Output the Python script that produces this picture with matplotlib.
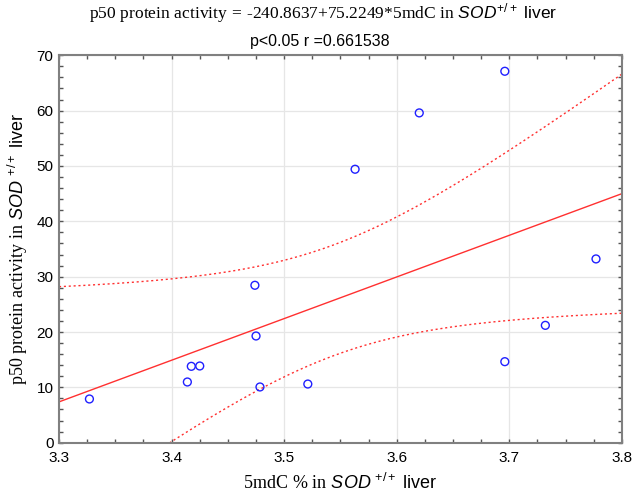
import numpy as np
import matplotlib.pyplot as plt
from matplotlib.ticker import MultipleLocator

plt.rcParams['mathtext.fontset'] = 'custom'
plt.rcParams['mathtext.rm'] = 'Liberation Serif'
plt.rcParams['mathtext.it'] = 'Liberation Sans:italic'
plt.rcParams['mathtext.sf'] = 'Liberation Sans'
plt.rcParams['font.family'] = 'Liberation Sans'

# 5mdC % (x) and p50 protein activity (y)
mdc = [3.327, 3.414, 3.4175, 3.425, 3.474, 3.475, 3.4785, 3.521,
       3.563, 3.620, 3.696, 3.696, 3.732, 3.777]
p50 = [7.9, 10.97, 13.8, 13.86, 28.44, 19.28, 10.07, 10.6,
       49.4, 59.58, 67.1, 14.64, 21.2, 33.2]

# regression coefficients from the title
intercept = -240.8637
slope = 75.2249
t_crit = 2.179  # t(0.975, df=12)

x = np.array(mdc)
y = np.array(p50)
n = len(x)
xs = np.linspace(3.3, 3.8, 200)
fit = intercept + slope * xs
resid = y - (intercept + slope * x)
s = np.sqrt(np.sum(resid ** 2) / (n - 2))
sxx = np.sum((x - x.mean()) ** 2)
half = t_crit * s * np.sqrt(1 / n + (xs - x.mean()) ** 2 / sxx)

fig = plt.figure(figsize=(6.32, 4.93), dpi=100)
ax = fig.add_axes([0.0934, 0.102, 0.8906, 0.786])

ax.plot(xs, fit, color='#ff3030', lw=1.0)
ax.plot(xs, fit + half, color='#ff3030', lw=1.0, ls=(0, (1.5, 2)))
ax.plot(xs, fit - half, color='#ff3030', lw=1.0, ls=(0, (1.5, 2)))
ax.scatter(x, y, s=32, facecolors='none', edgecolors='#2020ff', linewidths=1.0, zorder=3)

ax.set_xlim(3.3, 3.8)
ax.set_ylim(0, 70)
ax.xaxis.set_major_locator(MultipleLocator(0.1))
ax.xaxis.set_minor_locator(MultipleLocator(0.025))
ax.yaxis.set_major_locator(MultipleLocator(10))
ax.yaxis.set_minor_locator(MultipleLocator(2))
ax.tick_params(which='both', direction='in', top=True, right=True,
               length=3, width=1, color='#555555', labelsize=11)
ax.tick_params(axis='x', pad=6)
ax.tick_params(axis='y', pad=4)
ax.grid(True, which='major', color='#e6e6e6', lw=0.9)
ax.set_axisbelow(True)
for sp in ax.spines.values():
    sp.set_color('#808080')
    sp.set_linewidth(1.5)

ax.set_xlabel(r'$\mathrm{5mdC\ \%\ in\ }\mathit{SOD}^{\ \mathsf{+/+}}\mathsf{\ liver}$',
              fontsize=13, labelpad=6)
ax.set_ylabel(r'$\mathrm{p50\ protein\ activity\ in\ }\mathit{SOD}^{\ \mathsf{+/+}}\mathsf{\ liver}$',
              fontsize=13, labelpad=5)

title1 = ('$\\mathrm{p50\\ protein\\ activity\\,{=}\\,\u2010240.8637{+}75.2249{*}5mdC\\ in\\ }'
          '\\mathit{SOD}^{\\mathsf{+/+}}\\mathsf{\\ liver}$')
fig.text(0.512, 0.973, title1, ha='center', va='center', fontsize=12.5)
fig.text(0.506, 0.915, 'p<0.05 r =0.661538', ha='center', va='center', fontsize=11.5)

fig.savefig('out.png', dpi=100)
